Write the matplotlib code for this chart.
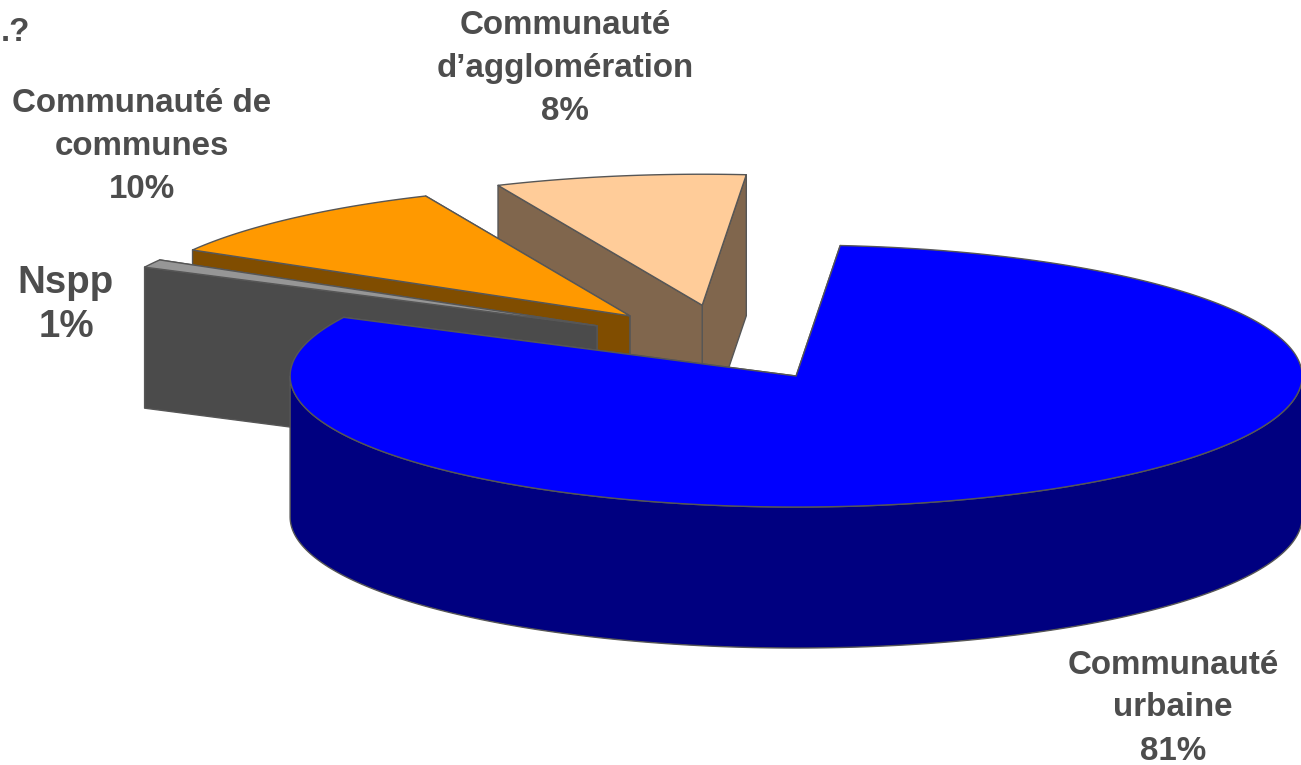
import numpy as np
import matplotlib
matplotlib.use('Agg')
import matplotlib.pyplot as plt

plt.rcParams['font.family'] = ['Liberation Sans', 'DejaVu Sans']

# slices clockwise starting from the top of the pie
names = ['Communauté\nurbaine', 'Nspp', 'Communauté de\ncommunes', 'Communauté\nd’agglomération']
shares = [81, 1, 10, 8]
explode = [0.28, 0.292, 0.288, 0.30]
top_colors = ['#0000FF', '#969696', '#FF9900', '#FFCC99']
side_colors = ['#000080', '#4B4B4B', '#804D00', '#80664D']
label_pos = [(1173, 708), (66, 305), (142, 146), (565, 68)]
label_size = [23.9, 27.7, 23.9, 23.9]
label_spacing = [1.5, 1.3, 1.5, 1.5]

# pie geometry in pixels
cx, cy = 727, 344
rx, ry = 506, 131
depth = 141
start = 5.0
edge = '#565656'


def project(theta, ox, oy):
    t = np.radians(theta)
    return ox + rx * np.sin(t), oy - ry * np.cos(t)


def face(ax, xs, ys, color):
    ax.fill(xs, ys, facecolor=color, edgecolor=edge, linewidth=1.0, joinstyle='round')


fig = plt.figure(figsize=(13.01, 7.65), dpi=100)
ax = fig.add_axes([0, 0, 1, 1])
ax.set_xlim(0, 1301)
ax.set_ylim(765, 0)
ax.axis('off')

sweeps = np.array(shares) / sum(shares) * 360
begins = start + np.concatenate(([0], np.cumsum(sweeps)[:-1]))

# back slices first, the big one goes on top
for i in range(len(shares) - 1, -1, -1):
    a0, a1 = begins[i], begins[i] + sweeps[i]
    mx, my = project((a0 + a1) / 2, 0, 0)
    ox, oy = cx + explode[i] * mx, cy + explode[i] * my

    # the two cut faces, far one first
    for a in (a1, a0):
        px, py = project(a, ox, oy)
        face(ax, [ox, px, px, ox], [oy, py, py + depth, oy + depth], side_colors[i])

    # outer wall, only the part that faces the viewer
    w0, w1 = max(a0, 90), min(a1, 270)
    if w1 > w0:
        th = np.linspace(w0, w1, 200)
        wx, wy = project(th, ox, oy)
        face(ax, np.r_[wx, wx[::-1]], np.r_[wy, wy[::-1] + depth], side_colors[i])

    # top surface
    th = np.linspace(a0, a1, 300)
    tx, ty = project(th, ox, oy)
    face(ax, np.r_[ox, tx], np.r_[oy, ty], top_colors[i])

for i in range(len(names)):
    lx, ly = label_pos[i]
    ax.text(lx, ly, names[i] + '\n' + str(shares[i]) + '%', ha='center', va='center',
            fontsize=label_size[i], fontweight='bold', color='#4D4D4D',
            linespacing=label_spacing[i])

ax.text(15, 32, '.?', ha='center', va='center', fontsize=23.9, fontweight='bold', color='#4D4D4D')

fig.savefig('out.png', dpi=100)
